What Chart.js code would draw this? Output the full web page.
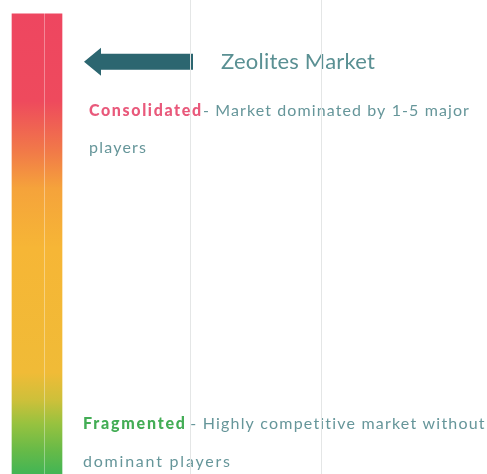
<!DOCTYPE html>
<html>
<head>
<meta charset="utf-8">
<script src="https://cdn.jsdelivr.net/npm/chart.js@4/dist/chart.umd.min.js"></script>
<style>
  html, body { margin: 0; padding: 0; background: #fff; }
  #wrap { width: 487px; height: 474px; }
</style>
</head>
<body>
<div id="wrap"><canvas id="mc" width="487" height="474"></canvas></div>
<script>
// market concentration scale: 0 = fragmented, 100 = consolidated
const scaleRange = [0, 100];
const marketName = 'Zeolites Market';
const marketLevel = 89.6;
const scaleEnds = ['Consolidated', 'Fragmented'];
const scaleNotes = [
    ['- Market dominated by 1-5 major', 'players'],
    [' - Highly competitive market without', 'dominant players']
];
const gridTicks = [44, 190, 321];

const barStops = [
    [0, '#ee4660'], [0.19, '#ee4a5d'], [0.30, '#f17a48'], [0.38, '#f5a33b'],
    [0.51, '#f6b636'], [0.78, '#f0bb37'], [0.84, '#cdc03a'], [0.89, '#98c23f'],
    [0.95, '#66ba48'], [1, '#42b555']
];

function barGradient(ctx) {
    const chart = ctx.chart;
    if (!chart.chartArea) return '#f6b636';
    const y = chart.scales.y;
    const g = chart.ctx.createLinearGradient(0, y.getPixelForValue(scaleRange[1]), 0, y.getPixelForValue(scaleRange[0]));
    barStops.forEach(s => g.addColorStop(s[0], s[1]));
    return g;
}

// text stretched to a given width (the source font is wide and loosely spaced)
function fitText(c, txt, x, y, width) {
    c.letterSpacing = '0px';
    const w = c.measureText(txt).width;
    const sp = (width - w) / Math.max(txt.length - 1, 1);
    if ('letterSpacing' in c) {
        c.letterSpacing = sp.toFixed(2) + 'px';
        c.fillText(txt, x, y);
        c.letterSpacing = '0px';
    } else {
        c.save();
        c.translate(x, y);
        c.scale(width / w, 1);
        c.fillText(txt, 0, 0);
        c.restore();
    }
    return x + width;
}

// arrow + texts
const notesPlugin = {
    id: 'notes',
    afterDatasetsDraw(chart) {
        const c = chart.ctx;
        const yPx = chart.scales.y.getPixelForValue(marketLevel);
        c.save();
        // arrow
        c.fillStyle = '#2c6670';
        c.beginPath();
        c.moveTo(84, yPx);
        c.lineTo(101, yPx - 14);
        c.lineTo(101, yPx - 8);
        c.lineTo(193, yPx - 8);
        c.lineTo(193, yPx + 8);
        c.lineTo(101, yPx + 8);
        c.lineTo(101, yPx + 14);
        c.closePath();
        c.fill();

        c.textBaseline = 'middle';
        c.font = '22px Lato';
        c.fillStyle = '#5a9093';
        fitText(c, marketName, 221, yPx, 154);

        // consolidated
        c.font = '900 16px Lato';
        c.fillStyle = '#e9597b';
        let x = fitText(c, scaleEnds[0], 89, 111, 112);
        c.font = '16px Lato';
        c.fillStyle = '#66969a';
        fitText(c, scaleNotes[0][0], x + 2, 111, 266);
        fitText(c, scaleNotes[0][1], 89, 148, 57);

        // fragmented
        c.font = '900 16px Lato';
        c.fillStyle = '#43ad55';
        x = fitText(c, scaleEnds[1], 83, 424, 102);
        c.font = '16px Lato';
        c.fillStyle = '#66969a';
        fitText(c, scaleNotes[1][0], x, 424, 300);
        fitText(c, scaleNotes[1][1], 83, 462, 147);
        c.restore();
    }
};

new Chart(document.getElementById('mc'), {
    type: 'bar',
    data: {
        datasets: [{
            label: 'Market concentration',
            data: [{ x: 37, y: scaleRange }],
            backgroundColor: barGradient,
            borderWidth: 0,
            barThickness: 50
        }]
    },
    options: {
        responsive: false,
        animation: false,
        layout: { padding: 0 },
        plugins: { legend: { display: false }, tooltip: { enabled: false } },
        scales: {
            x: {
                type: 'linear',
                min: 0,
                max: 487,
                offset: false,
                afterBuildTicks: axis => { axis.ticks = gridTicks.map(v => ({ value: v })); },
                ticks: { display: false },
                border: { display: false },
                grid: {
                    z: 1,
                    offset: false,
                    drawTicks: false,
                    color: ctx => ctx.tick && ctx.tick.value === gridTicks[0] ? 'rgba(255,255,255,0.35)' : '#e4e6e6'
                }
            },
            y: {
                display: false,
                min: 0,
                max: 103
            }
        }
    },
    plugins: [notesPlugin]
});
</script>
</body>
</html>
